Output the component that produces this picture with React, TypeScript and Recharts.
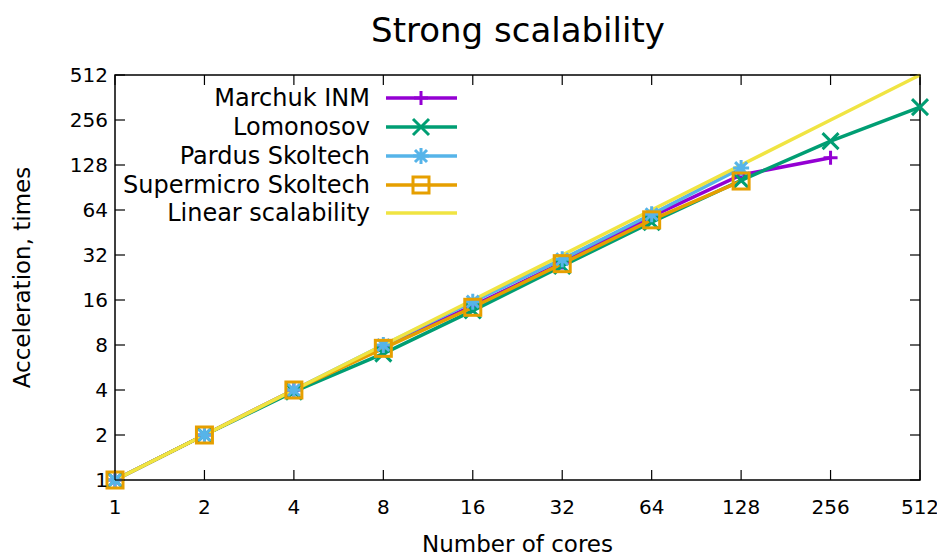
import React from 'react';
import { LineChart, Line, XAxis, YAxis, ReferenceArea, Label } from 'recharts';

const cores = [1, 2, 4, 8, 16, 32, 64, 128, 256, 512];
const marchuk = [1, 2, 4, 7.8, 14.6, 28.5, 58, 110, 143, null];
const lomonosov = [1, 2, 3.9, 7.0, 13.6, 27, 53, 101, 185, 312];
const pardus = [1, 2, 4, 8, 15.6, 30, 60, 122, null, null];
const supermicro = [1, 2, 4, 7.6, 14.3, 28, 55, 100, null, null];
const linear = [1, 2, 4, 8, 16, 32, 64, 128, 256, 512];
const ticks = [1, 2, 4, 8, 16, 32, 64, 128, 256, 512];

const W = 937;
const H = 552;
const PLOT = { left: 107, right: 912, top: 67, bottom: 472 };
const FONT = '"DejaVu Sans", sans-serif';
const TICK = 10;

const rows = cores.map((c, i) => ({
  cores: c,
  marchuk: marchuk[i],
  lomonosov: lomonosov[i],
  pardus: pardus[i],
  supermicro: supermicro[i],
  linear: linear[i],
}));

type Shape = 'plus' | 'cross' | 'star' | 'square' | 'none';

const marker = (shape: Shape, cx: number, cy: number, color: string, key?: string | number) => {
  const s = 8;
  if (shape === 'plus')
    return <path key={key} d={`M${cx - 7},${cy}h14M${cx},${cy - 7}v14`} stroke={color} strokeWidth={3} fill="none" />;
  if (shape === 'cross')
    return <path key={key} d={`M${cx - s},${cy - s}L${cx + s},${cy + s}M${cx - s},${cy + s}L${cx + s},${cy - s}`} stroke={color} strokeWidth={3} fill="none" />;
  if (shape === 'star')
    return (
      <path
        key={key}
        d={`M${cx - 8},${cy}h16M${cx},${cy - 8}v16M${cx - 6},${cy - 6}L${cx + 6},${cy + 6}M${cx - 6},${cy + 6}L${cx + 6},${cy - 6}`}
        stroke={color}
        strokeWidth={3}
        fill="none"
      />
    );
  if (shape === 'square')
    return <rect key={key} x={cx - 8} y={cy - 8} width={16} height={16} stroke={color} strokeWidth={3} fill="none" />;
  return <g key={key} />;
};

const series = [
  { key: 'marchuk', name: 'Marchuk INM', color: '#9400d3', shape: 'plus' as Shape },
  { key: 'lomonosov', name: 'Lomonosov', color: '#009e73', shape: 'cross' as Shape },
  { key: 'pardus', name: 'Pardus Skoltech', color: '#56b4e9', shape: 'star' as Shape },
  { key: 'supermicro', name: 'Supermicro Skoltech', color: '#e69f00', shape: 'square' as Shape },
  { key: 'linear', name: 'Linear scalability', color: '#f0e442', shape: 'none' as Shape },
];

const XTick = (props: any) => {
  const { x, y, payload } = props;
  return (
    <g>
      <line x1={x} x2={x} y1={PLOT.bottom} y2={PLOT.bottom - TICK} stroke="#000" strokeWidth={1.2} />
      <line x1={x} x2={x} y1={PLOT.top} y2={PLOT.top + TICK} stroke="#000" strokeWidth={1.2} />
      <text x={x} y={y + 34} textAnchor="middle" fontSize={20} fontFamily={FONT} fill="#000">
        {payload.value}
      </text>
    </g>
  );
};

const YTick = (props: any) => {
  const { y, payload } = props;
  return (
    <g>
      <line x1={PLOT.left} x2={PLOT.left + TICK} y1={y} y2={y} stroke="#000" strokeWidth={1.2} />
      <line x1={PLOT.right} x2={PLOT.right - TICK} y1={y} y2={y} stroke="#000" strokeWidth={1.2} />
      <text x={PLOT.left - 7} y={y + 7} textAnchor="end" fontSize={20} fontFamily={FONT} fill="#000">
        {payload.value}
      </text>
    </g>
  );
};

const LegendBox = () => {
  const rowY = [98, 127, 156, 185, 213];
  return (
    <svg width={W} height={H} style={{ position: 'absolute', left: 0, top: 0, pointerEvents: 'none' }}>
      {series.map((s, i) => {
        const y = rowY[i] - 8;
        return (
          <g key={s.key}>
            <text x={362} y={y + 8} textAnchor="end" fontSize={24} fontFamily={FONT} fill="#000">
              {s.name}
            </text>
            <line x1={378} x2={449} y1={y} y2={y} stroke={s.color} strokeWidth={3.5} />
            {marker(s.shape, 413, y, s.color)}
          </g>
        );
      })}
    </svg>
  );
};

export default function App() {
  return (
    <div style={{ position: 'relative', width: W, height: H }}>
      <LineChart width={W} height={H} data={rows} margin={{ top: 67, right: 25, bottom: 0, left: 0 }}>
        <text x={510} y={34} textAnchor="middle" fontSize={34} fontFamily={FONT} fill="#000">
          Strong scalability
        </text>
        <XAxis
          dataKey="cores"
          type="number"
          scale="log"
          domain={[1, 512]}
          ticks={ticks}
          height={80}
          tickSize={0}
          tickMargin={0}
          tickLine={false}
          axisLine={false}
          tick={<XTick />}
          interval={0}
        >
          <Label
            content={() => (
              <text x={(PLOT.left + PLOT.right) / 2} y={544} textAnchor="middle" fontSize={23} fontFamily={FONT} fill="#000">
                Number of cores
              </text>
            )}
          />
        </XAxis>
        <YAxis
          type="number"
          scale="log"
          domain={[1, 512]}
          ticks={ticks}
          width={107}
          tickSize={0}
          tickMargin={0}
          tickLine={false}
          axisLine={false}
          tick={<YTick />}
          interval={0}
        >
          <Label
            content={() => (
              <text
                x={22}
                y={(PLOT.top + PLOT.bottom) / 2}
                transform={`rotate(-90 22 ${(PLOT.top + PLOT.bottom) / 2})`}
                textAnchor="middle"
                fontSize={23}
                fontFamily={FONT}
                fill="#000"
              >
                Acceleration, times
              </text>
            )}
          />
        </YAxis>
        <ReferenceArea x1={1} x2={512} y1={1} y2={512} fill="none" stroke="#000" strokeWidth={1.5} fillOpacity={0} />
        {series.map((s) => (
          <Line
            key={s.key}
            dataKey={s.key}
            stroke={s.color}
            strokeWidth={3.5}
            isAnimationActive={false}
            connectNulls={false}
            dot={(p: any) =>
              p.value == null || p.cx == null ? <g key={`${s.key}-${p.index}`} /> : marker(s.shape, p.cx, p.cy, s.color, `${s.key}-${p.index}`)
            }
            activeDot={false}
          />
        ))}
      </LineChart>
      <LegendBox />
    </div>
  );
}
